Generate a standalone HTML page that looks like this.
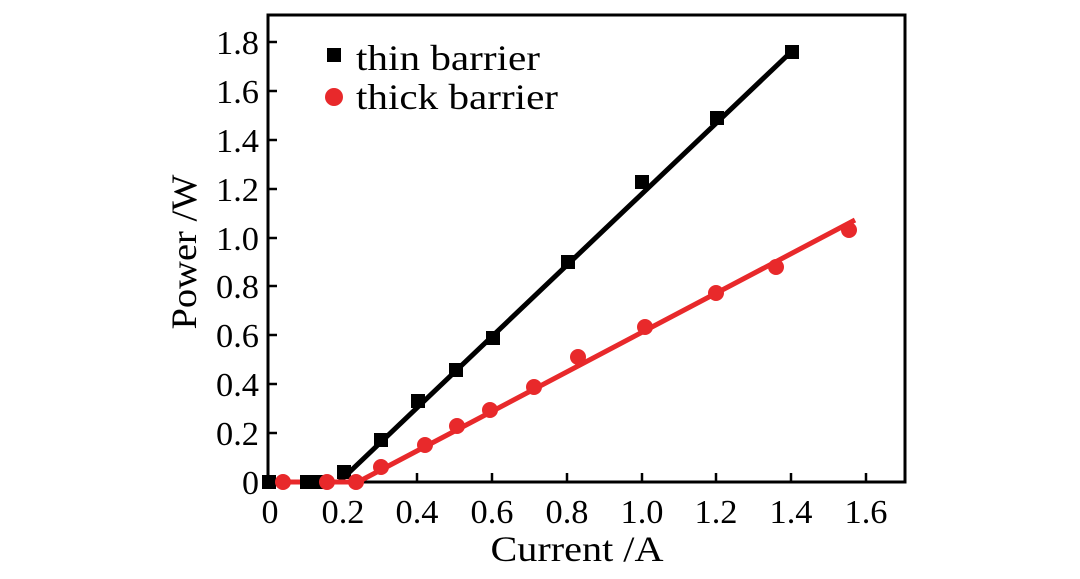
<!DOCTYPE html>
<html><head><style>body{margin:0;background:#fff}</style></head><body>
<svg width="1080" height="574" viewBox="0 0 1080 574" xmlns="http://www.w3.org/2000/svg" font-family="Liberation Serif, serif" fill="#000">
<rect x="268" y="15" width="637" height="467" fill="none" stroke="#000" stroke-width="3"/>
<g stroke="#000" stroke-width="2.5">
<line x1="268" y1="433" x2="277" y2="433"/><line x1="268" y1="384" x2="277" y2="384"/><line x1="268" y1="335" x2="277" y2="335"/><line x1="268" y1="286" x2="277" y2="286"/><line x1="268" y1="238" x2="277" y2="238"/><line x1="268" y1="189" x2="277" y2="189"/><line x1="268" y1="140" x2="277" y2="140"/><line x1="268" y1="91" x2="277" y2="91"/><line x1="268" y1="42" x2="277" y2="42"/>
<line x1="343" y1="482" x2="343" y2="473"/><line x1="417" y1="482" x2="417" y2="473"/><line x1="492" y1="482" x2="492" y2="473"/><line x1="567" y1="482" x2="567" y2="473"/><line x1="642" y1="482" x2="642" y2="473"/><line x1="716" y1="482" x2="716" y2="473"/><line x1="791" y1="482" x2="791" y2="473"/><line x1="866" y1="482" x2="866" y2="473"/>
</g>
<g font-size="34" text-anchor="end">
<text x="259" y="494">0</text><text x="259" y="445" textLength="43" lengthAdjust="spacingAndGlyphs">0.2</text><text x="259" y="396" textLength="43" lengthAdjust="spacingAndGlyphs">0.4</text><text x="259" y="347" textLength="43" lengthAdjust="spacingAndGlyphs">0.6</text><text x="259" y="298" textLength="43" lengthAdjust="spacingAndGlyphs">0.8</text><text x="259" y="250" textLength="43" lengthAdjust="spacingAndGlyphs">1.0</text><text x="259" y="201" textLength="43" lengthAdjust="spacingAndGlyphs">1.2</text><text x="259" y="152" textLength="43" lengthAdjust="spacingAndGlyphs">1.4</text><text x="259" y="103" textLength="43" lengthAdjust="spacingAndGlyphs">1.6</text><text x="259" y="54" textLength="43" lengthAdjust="spacingAndGlyphs">1.8</text>
</g>
<g font-size="34" text-anchor="middle">
<text x="270" y="523">0</text><text x="343" y="523" textLength="43" lengthAdjust="spacingAndGlyphs">0.2</text><text x="417" y="523" textLength="43" lengthAdjust="spacingAndGlyphs">0.4</text><text x="492" y="523" textLength="43" lengthAdjust="spacingAndGlyphs">0.6</text><text x="567" y="523" textLength="43" lengthAdjust="spacingAndGlyphs">0.8</text><text x="642" y="523" textLength="43" lengthAdjust="spacingAndGlyphs">1.0</text><text x="716" y="523" textLength="43" lengthAdjust="spacingAndGlyphs">1.2</text><text x="791" y="523" textLength="43" lengthAdjust="spacingAndGlyphs">1.4</text><text x="866" y="523" textLength="43" lengthAdjust="spacingAndGlyphs">1.6</text>
<text x="577" y="561" font-size="36" textLength="173" lengthAdjust="spacingAndGlyphs">Current /A</text>
<text transform="translate(196,252) rotate(-90)" font-size="36" textLength="155" lengthAdjust="spacingAndGlyphs">Power /W</text>
</g>
<polyline points="268,482 339,482 791,52" fill="none" stroke="#000" stroke-width="5"/>
<polyline points="268,482 358,482 855,220" fill="none" stroke="#e8292b" stroke-width="5"/>
<g fill="#000">
<rect x="262" y="475" width="14" height="14"/><rect x="300" y="475" width="14" height="14"/><rect x="311" y="475" width="14" height="14"/><rect x="337" y="465" width="14" height="14"/><rect x="374" y="433" width="14" height="14"/><rect x="411" y="394" width="14" height="14"/><rect x="449" y="363" width="14" height="14"/><rect x="486" y="331" width="14" height="14"/><rect x="561" y="255" width="14" height="14"/><rect x="635" y="175" width="14" height="14"/><rect x="710" y="111" width="14" height="14"/><rect x="785" y="45" width="14" height="14"/>
<rect x="327" y="48" width="14" height="14"/>
</g>
<g fill="#e8292b">
<circle cx="283" cy="482" r="8"/><circle cx="327" cy="482" r="8"/><circle cx="356" cy="482" r="8"/><circle cx="381" cy="467" r="8"/><circle cx="425" cy="445" r="8"/><circle cx="457" cy="426" r="8"/><circle cx="490" cy="410" r="8"/><circle cx="534" cy="387" r="8"/><circle cx="578" cy="357" r="8"/><circle cx="645" cy="327" r="8"/><circle cx="716" cy="293" r="8"/><circle cx="776" cy="267" r="8"/><circle cx="849" cy="230" r="8"/>
<circle cx="334" cy="97" r="9"/>
</g>
<text x="356" y="70" font-size="36" textLength="184" lengthAdjust="spacingAndGlyphs">thin barrier</text>
<text x="356" y="109" font-size="36" textLength="202" lengthAdjust="spacingAndGlyphs">thick barrier</text>
</svg>
</body></html>
